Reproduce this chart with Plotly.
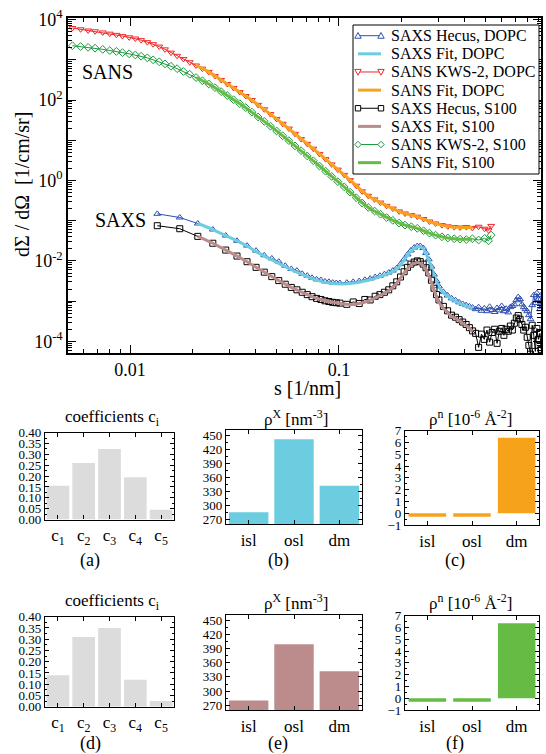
import plotly.graph_objects as go

# ---------------- data ----------------
sans_s = [0.0053, 0.0058, 0.0063, 0.0068, 0.0074, 0.0080, 0.0086, 0.0092, 0.0099, 0.0106,
          0.0113, 0.0121, 0.0129, 0.0138, 0.0147, 0.0157, 0.0168, 0.0180, 0.0193, 0.0207,
          0.0222, 0.0238, 0.0255, 0.0273, 0.0292, 0.0313, 0.0335, 0.0358, 0.0383, 0.041,
          0.0439, 0.047, 0.0503, 0.0538, 0.0576, 0.0616, 0.0659, 0.0705, 0.0754, 0.0807,
          0.0863, 0.0923, 0.0988, 0.106, 0.113, 0.121, 0.129, 0.138, 0.148, 0.158,
          0.169, 0.181, 0.194, 0.207, 0.222, 0.237, 0.254, 0.271, 0.290, 0.311,
          0.332, 0.356, 0.380, 0.407, 0.435, 0.466, 0.498, 0.520, 0.535]
sans_dopc = [6170, 5750, 5370, 5130, 4790, 4470, 4170, 3890, 3630, 3390,
             3090, 2750, 2450, 2140, 1820, 1510, 1260, 1050, 871, 724,
             603, 501, 398, 316, 251, 200, 158, 126, 100, 75.9,
             58.9, 44.7, 33.9, 25.7, 19.5, 14.5, 10.7, 8.13, 6.17, 4.57,
             3.39, 2.51, 1.86, 1.38, 1.02, 0.741, 0.537, 0.417, 0.339, 0.282,
             0.234, 0.200, 0.170, 0.151, 0.138, 0.126, 0.110, 0.0955, 0.0851, 0.0776,
             0.0724, 0.0692, 0.0676, 0.0692, 0.0661, 0.0708, 0.0631, 0.0575, 0.0741]
sans_s100 = [2240, 2140, 2040, 1950, 1820, 1700, 1620, 1510, 1410, 1320,
             1230, 1120, 1000, 891, 794, 692, 603, 513, 437, 363,
             302, 251, 204, 162, 129, 102, 81.3, 64.6, 50.1, 38.0,
             29.5, 22.4, 17.0, 12.9, 9.77, 7.24, 5.50, 4.07, 3.09, 2.29,
             1.70, 1.26, 0.933, 0.692, 0.513, 0.372, 0.275, 0.214, 0.174, 0.145,
             0.120, 0.102, 0.0871, 0.0776, 0.0708, 0.0646, 0.0562, 0.0490, 0.0437, 0.0398,
             0.0372, 0.0355, 0.0347, 0.0339, 0.0355, 0.0331, 0.0363, 0.0316, 0.0437]

sans_fit_s = [0.0207, 0.0238, 0.0273, 0.0313, 0.0358, 0.041, 0.047, 0.0538, 0.0616, 0.0705,
              0.0807, 0.0923, 0.106, 0.121, 0.138, 0.158, 0.181, 0.207, 0.222, 0.237,
              0.254, 0.271, 0.290, 0.311, 0.332, 0.356, 0.380, 0.407, 0.435]
sans_fit_dopc = [724, 501, 316, 200, 126, 75.9, 44.7, 25.7, 14.5, 8.13,
                 4.57, 2.51, 1.38, 0.741, 0.417, 0.282, 0.200, 0.151, 0.138, 0.126,
                 0.110, 0.0955, 0.0851, 0.0776, 0.0724, 0.0692, 0.0676, 0.0676, 0.0676]
sans_fit_s100 = [363, 251, 162, 102, 64.6, 38.0, 22.4, 12.9, 7.24, 4.07,
                 2.29, 1.26, 0.692, 0.372, 0.214, 0.145, 0.102, 0.0776, 0.0708, 0.0646,
                 0.0562, 0.0490, 0.0437, 0.0398, 0.0372, 0.0355, 0.0347, 0.0347, 0.0347]

saxs_s = [0.0135, 0.0173, 0.0211, 0.0249, 0.0287, 0.0325, 0.0363, 0.0401, 0.0439, 0.0477,
          0.0515, 0.0553, 0.0591, 0.0629, 0.0667, 0.0705, 0.0743, 0.0781, 0.0819, 0.0857,
          0.0895, 0.0933, 0.0971,
          0.101, 0.109, 0.117, 0.125, 0.133, 0.141, 0.149, 0.157, 0.165, 0.173,
          0.181, 0.189, 0.197, 0.205, 0.213, 0.221, 0.229, 0.237, 0.245, 0.253,
          0.261, 0.269, 0.277, 0.285, 0.293, 0.301,
          0.316, 0.331, 0.346, 0.361, 0.376, 0.391, 0.406, 0.421, 0.436, 0.451,
          0.466, 0.481, 0.496, 0.511, 0.526, 0.541, 0.556, 0.571, 0.586, 0.601,
          0.616, 0.631, 0.646, 0.661, 0.676, 0.691, 0.706, 0.721, 0.736, 0.751,
          0.766, 0.781, 0.796, 0.811, 0.826, 0.841, 0.856, 0.871, 0.886, 0.901,
          0.916, 0.928]
saxs_dopc = [0.148, 0.120, 0.0851, 0.0603, 0.0427, 0.0316, 0.0240, 0.0180, 0.0138, 0.0115,
             0.0096, 0.00759, 0.00631, 0.00575, 0.00479, 0.00430, 0.00380, 0.00347, 0.00335, 0.00309,
             0.00302, 0.00288, 0.00282,
             0.00282, 0.00288, 0.00302, 0.00316, 0.00339, 0.00363, 0.00398, 0.00427, 0.00468, 0.00513,
             0.00575, 0.00661, 0.00832, 0.0110, 0.0145, 0.0182, 0.0214, 0.0234, 0.0234, 0.0209,
             0.0158, 0.0110, 0.00724, 0.00457, 0.00316, 0.00234,
             0.00170, 0.00138, 0.00117, 0.00105, 0.000933, 0.000851, 0.000794, 0.000741, 0.000692, 0.000631,
             0.000708, 0.000575, 0.000661, 0.000562, 0.000724, 0.000603, 0.000537, 0.000676, 0.000589, 0.000759,
             0.000562, 0.000646, 0.000525, 0.000708, 0.000759, 0.000832, 0.00105, 0.00126, 0.00112, 0.000832,
             0.000708, 0.000631, 0.000562, 0.000447, 0.000355, 0.000794, 0.00141, 0.000891, 0.00158, 0.00112,
             0.000631, 0.00141]
saxs_s100 = [0.0750, 0.0631, 0.0407, 0.0275, 0.0186, 0.0132, 0.00955, 0.00692, 0.00525, 0.00407,
             0.00324, 0.00263, 0.00219, 0.00191, 0.00166, 0.00145, 0.00129, 0.00117, 0.00110, 0.00102,
             0.000977, 0.000933, 0.000912,
             0.000891, 0.000832, 0.000955, 0.000871, 0.00110, 0.00107, 0.00132, 0.00145, 0.00166, 0.00191,
             0.00240, 0.00302, 0.00398, 0.00537, 0.00692, 0.00832, 0.00933, 0.0100, 0.00955, 0.00832,
             0.00676, 0.00501, 0.00331, 0.00209, 0.00145, 0.00107,
             0.000741, 0.000575, 0.000447, 0.000398, 0.000347, 0.000302, 0.000263, 0.000219, 0.000182, 0.000158,
             0.0000708, 0.000151, 0.000112, 0.000191, 0.0000955, 0.000166, 0.000200, 0.0000891, 0.000178, 0.000209,
             0.000141, 0.000200, 0.000178, 0.000240, 0.000191, 0.000282, 0.000380, 0.000437, 0.000355, 0.000263,
             0.000191, 0.000224, 0.000126, 0.0000794, 0.0000479, 0.000251, 0.000141, 0.0000562, 0.000209, 0.000112,
             0.000158, 0.0000631]

saxs_fit_s = [0.0211, 0.0249, 0.0287, 0.0325, 0.0363, 0.0401, 0.0439, 0.0515, 0.0591, 0.0667,
              0.0743, 0.0819, 0.0895, 0.0971, 0.109, 0.125, 0.141, 0.157, 0.173, 0.189,
              0.197, 0.205, 0.213, 0.221, 0.229, 0.237, 0.245, 0.253, 0.261, 0.269,
              0.277, 0.285, 0.293, 0.301, 0.316, 0.331, 0.346, 0.361, 0.376, 0.391,
              0.406, 0.421, 0.436]
saxs_fit_dopc = [0.0851, 0.0603, 0.0427, 0.0316, 0.0234, 0.0170, 0.0132, 0.00871, 0.00603, 0.00457,
                 0.00363, 0.00309, 0.00282, 0.00269, 0.00269, 0.00295, 0.00339, 0.00407, 0.00490, 0.00631,
                 0.00794, 0.0105, 0.0138, 0.0174, 0.0204, 0.0224, 0.0224, 0.0200, 0.0151, 0.0105,
                 0.00692, 0.00437, 0.00302, 0.00224, 0.00162, 0.00132, 0.00112, 0.00100, 0.000891, 0.000813,
                 0.000759, 0.000708, 0.000661]
saxs_fit_s100 = [0.0407, 0.0275, 0.0186, 0.0132, 0.00955, 0.00692, 0.00525, 0.00324, 0.00219, 0.00166,
                 0.00129, 0.00110, 0.000977, 0.000912, 0.000832, 0.000871, 0.00105, 0.00138, 0.00182, 0.00282,
                 0.00372, 0.00501, 0.00646, 0.00776, 0.00871, 0.00912, 0.00871, 0.00759, 0.00603, 0.00437,
                 0.00288, 0.00186, 0.00126, 0.000933, 0.000661, 0.000525, 0.000417, 0.000372, 0.000324, 0.000282,
                 0.000245, 0.000209, 0.000174]

coef_labels = ["c<sub>1</sub>", "c<sub>2</sub>", "c<sub>3</sub>", "c<sub>4</sub>", "c<sub>5</sub>"]
coef_dopc = [0.155, 0.26, 0.325, 0.195, 0.045]
coef_s100 = [0.14, 0.31, 0.35, 0.12, 0.025]
layer_labels = ["isl", "osl", "dm"]
rhox_dopc = [285, 441, 342]
rhox_s100 = [280, 399, 342]
rhon_dopc = [-0.3, -0.3, 6.4]
rhon_s100 = [-0.3, -0.3, 6.35]

main_x_ticks = [0.01, 0.1]
main_x_ticktext = ["0.01", "0.1"]
main_y_ticks = [1e-4, 1e-3, 1e-2, 1e-1, 1, 10, 1e2, 1e3, 1e4]
main_y_ticktext = ["10<sup>-4</sup>", "", "10<sup>-2</sup>", "", "10<sup>0</sup>", "",
                   "10<sup>2</sup>", "", "10<sup>4</sup>"]

# ---------------- styles ----------------
FONT = "Liberation Serif, Times New Roman, serif"
W, H = 546, 754
BLUE = "#2f4fae"
CYAN = "#6ccde0"
RED = "#f02828"
ORANGE = "#f7a21b"
BLACK = "#000000"
ROSY = "#bc8c8c"
GREEN = "#189a3c"
LGREEN = "#66bb44"
GREY = "#dcdcdc"


def px_x(p):
    return p / W


def px_y(p):
    return 1 - p / H


fig = go.Figure()

# series descriptors: (name, color, symbol or None for fit lines)
series_style = [
    ("SAXS Hecus, DOPC", BLUE, "triangle-up"),
    ("SAXS Fit, DOPC", CYAN, None),
    ("SANS KWS-2, DOPC", RED, "triangle-down"),
    ("SANS Fit, DOPC", ORANGE, None),
    ("SAXS Hecus, S100", BLACK, "square"),
    ("SAXS Fit, S100", ROSY, None),
    ("SANS KWS-2, S100", GREEN, "diamond"),
    ("SANS Fit, S100", LGREEN, None),
]
series_data = [
    (saxs_s, saxs_dopc), (saxs_fit_s, saxs_fit_dopc),
    (sans_s, sans_dopc), (sans_fit_s, sans_fit_dopc),
    (saxs_s, saxs_s100), (saxs_fit_s, saxs_fit_s100),
    (sans_s, sans_s100), (sans_fit_s, sans_fit_s100),
]
for (name, color, sym), (xs, ys) in zip(series_style, series_data):
    if sym is None:
        fig.add_trace(go.Scatter(x=xs, y=ys, mode="lines", name=name,
                                 line=dict(color=color, width=3, shape="spline"),
                                 showlegend=False, xaxis="x", yaxis="y"))
    else:
        fig.add_trace(go.Scatter(x=xs, y=ys, mode="lines+markers", name=name,
                                 line=dict(color=color, width=1),
                                 marker=dict(symbol=sym + "-open", size=6, color=color,
                                             line=dict(color=color, width=1)),
                                 showlegend=False, xaxis="x", yaxis="y"))

# bar panels: (axis index, categories, values, color, width)
panels = [
    (2, coef_labels, coef_dopc, GREY, 0.88),
    (3, layer_labels, rhox_dopc, CYAN, 0.87),
    (4, layer_labels, rhon_dopc, ORANGE, 0.84),
    (5, coef_labels, coef_s100, GREY, 0.88),
    (6, layer_labels, rhox_s100, ROSY, 0.87),
    (7, layer_labels, rhon_s100, LGREEN, 0.84),
]
for idx, cats, vals, col, wd in panels:
    fig.add_trace(go.Bar(x=cats, y=vals, marker=dict(color=col, line=dict(width=0)), width=wd,
                         showlegend=False, xaxis=f"x{idx}", yaxis=f"y{idx}"))

minor_x = [k * 10 ** e for e in (-3, -2, -1) for k in range(2, 10)]
minor_y = [k * 10.0 ** e for e in range(-5, 5) for k in range(2, 10)]

axis_common = dict(showline=True, linecolor="black", linewidth=1.5, mirror="ticks", ticks="inside",
                   tickcolor="black", showgrid=False, zeroline=False, automargin=False,
                   tickfont=dict(family=FONT, size=18, color="black"))

layout = dict(
    template="none",
    width=W, height=H, margin=dict(l=0, r=0, t=0, b=0, pad=0, autoexpand=False),
    paper_bgcolor="white", plot_bgcolor="white",
    font=dict(family=FONT, color="black"),
    showlegend=False,
    xaxis=dict(axis_common, type="log", domain=[px_x(68), px_x(541)], range=[-2.297, -0.033],
               tickmode="array", tickvals=main_x_ticks, ticktext=main_x_ticktext, ticklen=8,
               minor=dict(tickmode="array", tickvals=minor_x, ticks="inside", ticklen=4, tickcolor="black"),
               anchor="y"),
    yaxis=dict(axis_common, type="log", domain=[px_y(353), px_y(18)], range=[-4.29, 4.04],
               tickmode="array", tickvals=main_y_ticks, ticktext=main_y_ticktext, ticklen=8,
               minor=dict(tickmode="array", tickvals=minor_y, ticks="inside", ticklen=4, tickcolor="black"),
               anchor="x"),
)

bar_geom = {
    2: ([45, 174], [519.5, 432.7], [0, 0.4], 0.05, 0, ".2f", 4.5),
    3: ([226, 362], [524, 430], [260, 461], 30, 270, "d", 2.5),
    4: ([405, 539], [525, 430.7], [-1, 7], 1, 0, "d", 2.5),
    5: ([45, 174], [706.7, 616.7], [0, 0.4], 0.05, 0, ".2f", 4.5),
    6: ([226, 362], [710, 615], [260, 461], 30, 270, "d", 2.5),
    7: ([405, 539], [710, 615.7], [-1, 7], 1, 0, "d", 2.5),
}
bar_common = dict(showline=True, linecolor="black", linewidth=1.2, mirror="ticks", ticks="inside",
                  tickcolor="black", showgrid=False, zeroline=False, automargin=False)
for idx, (xd, yd, yr, dt, t0, fmt, xr) in bar_geom.items():
    layout[f"xaxis{idx}"] = dict(bar_common, domain=[px_x(xd[0]), px_x(xd[1])], anchor=f"y{idx}",
                                 type="category", range=[-0.5, xr], ticklen=4,
                                 tickfont=dict(family=FONT, size=17, color="black"))
    layout[f"yaxis{idx}"] = dict(bar_common, domain=[px_y(yd[0]), px_y(yd[1])], anchor=f"x{idx}",
                                 range=yr, dtick=dt, tick0=t0, tickformat=fmt, ticklen=4,
                                 minor=dict(dtick=dt / 2, ticks="inside", ticklen=2, tickcolor="black"),
                                 tickfont=dict(family=FONT, size=13, color="black"))

fig.update_layout(**layout)

# ---------------- hand-drawn legend (xmgrace style) ----------------
shapes = []
ann = []


def add_text(text, x, y, size, xanchor="center", **kw):
    ann.append(dict(text=text, x=px_x(x), y=px_y(y), xref="paper", yref="paper", showarrow=False,
                    xanchor=xanchor, yanchor="middle",
                    font=dict(family=FONT, size=size, color="black"), **kw))


def path_shape(points, color):
    d = "M " + " L ".join(f"{px_x(a):.5f},{px_y(b):.5f}" for a, b in points) + " Z"
    return dict(type="path", path=d, xref="paper", yref="paper",
                line=dict(color=color, width=1), fillcolor="white", layer="above")


def marker_shape(sym, cx, cy, color):
    r = 3.2
    if sym == "triangle-up":
        pts = [(cx - r, cy + r * 0.8), (cx + r, cy + r * 0.8), (cx, cy - r)]
    elif sym == "triangle-down":
        pts = [(cx - r, cy - r * 0.8), (cx + r, cy - r * 0.8), (cx, cy + r)]
    elif sym == "square":
        r = 2.7
        pts = [(cx - r, cy - r), (cx + r, cy - r), (cx + r, cy + r), (cx - r, cy + r)]
    else:
        pts = [(cx - r, cy), (cx, cy - r), (cx + r, cy), (cx, cy + r)]
    return path_shape(pts, color)


LEG_L, LEG_R, LEG_T, LEG_B = 353, 539, 25, 174
shapes.append(dict(type="rect", xref="paper", yref="paper", x0=px_x(LEG_L), x1=px_x(LEG_R),
                   y0=px_y(LEG_B), y1=px_y(LEG_T), line=dict(color="black", width=1),
                   fillcolor="white", layer="above"))
for i, (name, color, sym) in enumerate(series_style):
    yy = 35.7 + i * 18.14
    x0, x1 = 358, 381
    shapes.append(dict(type="line", xref="paper", yref="paper", x0=px_x(x0), x1=px_x(x1),
                       y0=px_y(yy), y1=px_y(yy), layer="above",
                       line=dict(color=color, width=1 if sym else 3)))
    if sym:
        shapes.append(marker_shape(sym, x0, yy, color))
        shapes.append(marker_shape(sym, x1, yy, color))
    add_text(name, 389, yy, 16, xanchor="left")

add_text("SANS", 107, 72, 20)
add_text("SAXS", 120, 220, 20)
add_text("s [1/nm]", 307, 388, 20)
add_text("dΣ / dΩ  [1/cm/sr]", 22, 185, 20, textangle=-90)
for yy in (418, 602):
    add_text("coefficients c<sub>i</sub>", 112, yy, 17)
    add_text("ρ<sup>X</sup> [nm<sup>-3</sup>]", 296, yy, 17)
    add_text("ρ<sup>n</sup> [10<sup>-6</sup> Å<sup>-2</sup>]", 470, yy, 17)
for yy, labs in ((560, ("(a)", "(b)", "(c)")), (743, ("(d)", "(e)", "(f)"))):
    for xx, lab in zip((90, 278, 455), labs):
        add_text(lab, xx, yy, 18)

fig.update_layout(shapes=shapes, annotations=ann)
fig.write_html("out.html", config={"displayModeBar": False},
               post_script="document.body.style.margin='0px';")
